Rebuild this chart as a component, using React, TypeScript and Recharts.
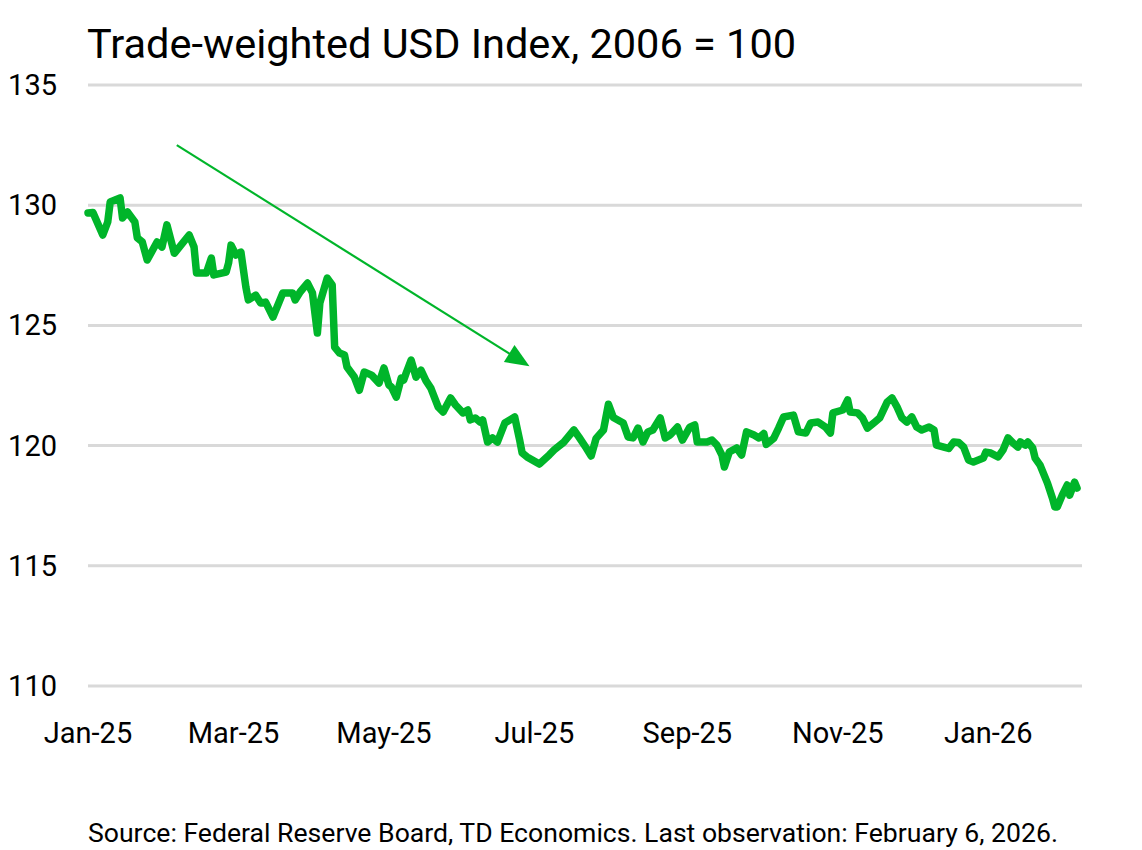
import React from "react";
import { LineChart, Line, XAxis, YAxis, CartesianGrid, ReferenceLine } from "recharts";

// days since 2025-01-01 for each observation
const dayOffsets = [
  0, 2, 6, 8, 9, 13, 14, 16, 19, 20, 22, 24, 28, 30, 32, 35, 41, 43, 44, 48,
  50, 51, 56, 57, 58, 60, 62, 64, 65, 68, 70, 72, 75, 79, 83, 84, 86, 89, 91, 93,
  94, 97, 99, 100, 102, 104, 105, 108, 110, 112, 115, 118, 120, 122, 123, 125, 127, 128, 129, 131,
  133, 135, 137, 139, 142, 144, 147, 149, 152, 154, 155, 157, 159, 160, 162, 164, 166, 169, 173, 175,
  176, 178, 183, 187, 189, 193, 197, 199, 202, 204, 206, 209, 211, 213, 217, 219, 221, 223, 225, 227,
  229, 232, 234, 236, 239, 241, 244, 246, 247, 251, 253, 255, 257, 258, 260, 263, 265, 267, 270, 272,
  274, 275, 278, 280, 282, 286, 288, 291, 293, 296, 299, 301, 302, 306, 308, 309, 312, 314, 316, 319,
  321, 324, 326, 328, 330, 332, 334, 336, 338, 341, 343, 344, 347, 349, 351, 353, 355, 357, 359, 363,
  364, 366, 369, 371, 373, 375, 377, 378, 380, 381, 383, 384, 386, 389, 391, 392, 393, 395, 397, 398,
  400, 401,
];

const usdIndex = [
  129.68, 129.7, 128.76, 129.3, 130.13, 130.3, 129.47, 129.72, 129.3, 128.64, 128.47, 127.72, 128.47, 128.26, 129.18, 128.0, 128.76, 128.26, 127.18, 127.18,
  127.8, 127.1, 127.22, 127.6, 128.34, 127.93, 128.05, 126.6, 126.06, 126.26, 125.93, 125.97, 125.35, 126.35, 126.35, 126.06, 126.39, 126.76, 126.35, 124.68,
  125.93, 126.97, 126.68, 124.1, 123.85, 123.77, 123.27, 122.85, 122.3, 123.06, 122.93, 122.6, 123.23, 122.52, 122.44, 122.02, 122.81, 122.73, 123.02, 123.56,
  122.85, 123.14, 122.7, 122.39, 121.6, 121.4, 121.98, 121.69, 121.36, 121.48, 121.07, 121.15, 120.98, 121.07, 120.15, 120.32, 120.15, 120.94, 121.19, 120.23,
  119.7, 119.53, 119.23, 119.61, 119.82, 120.15, 120.65, 120.36, 119.9, 119.57, 120.3, 120.65, 121.72, 121.17, 120.94, 120.36, 120.32, 120.73, 120.15, 120.57,
  120.65, 121.15, 120.32, 120.44, 120.77, 120.23, 120.77, 120.86, 120.15, 120.15, 120.23, 120.02, 119.61, 119.11, 119.73, 119.9, 119.61, 120.57, 120.44, 120.32,
  120.5, 120.05, 120.3, 120.73, 121.19, 121.27, 120.57, 120.52, 120.94, 120.98, 120.77, 120.52, 121.36, 121.48, 121.9, 121.4, 121.36, 121.15, 120.73, 120.98,
  121.15, 121.81, 121.98, 121.61, 121.15, 120.98, 121.19, 120.77, 120.65, 120.77, 120.65, 120.02, 119.94, 119.88, 120.15, 120.13, 119.94, 119.4, 119.32, 119.48,
  119.73, 119.69, 119.53, 119.82, 120.32, 120.11, 119.94, 120.15, 120.02, 120.15, 119.9, 119.48, 119.19, 118.44, 117.82, 117.45, 117.45, 117.94, 118.36, 117.94,
  118.48, 118.23,
];

const monthTicks = [0, 59, 120, 181, 243, 304, 365];
const monthLabels = ["Jan-25", "Mar-25", "May-25", "Jul-25", "Sep-25", "Nov-25", "Jan-26"];
const yTicks = [110, 115, 120, 125, 130, 135];

// trend arrow, in data units
const arrowFrom = { day: 36, value: 132.5 };
const arrowTo = { day: 179, value: 123.3 };

const GREEN = "#00b52a";
const FONT = "Roboto, 'Open Sans', sans-serif";

const data = dayOffsets.map((d, i) => ({ day: d, usd: usdIndex[i] }));

function ArrowShape(props: any) {
  const { x1, y1, x2, y2 } = props;
  if ([x1, y1, x2, y2].some((v) => v == null || isNaN(v))) return null;
  const dx = x2 - x1;
  const dy = y2 - y1;
  const len = Math.sqrt(dx * dx + dy * dy);
  const ux = dx / len;
  const uy = dy / len;
  const headLen = 24;
  const headW = 10;
  const bx = x2 - ux * headLen;
  const by = y2 - uy * headLen;
  return (
    <g>
      <line x1={x1} y1={y1} x2={bx + ux * 2} y2={by + uy * 2} stroke={GREEN} strokeWidth={2.2} />
      <polygon
        points={`${x2},${y2} ${bx - uy * headW},${by + ux * headW} ${bx + uy * headW},${by - ux * headW}`}
        fill={GREEN}
      />
    </g>
  );
}

function YTick(props: any) {
  const { y, payload } = props;
  return (
    <text x={57} y={y} dy={10} textAnchor="end" fill="#000" fontSize={29} fontFamily={FONT}>
      {payload.value}
    </text>
  );
}

function XTick(props: any) {
  const { x, y, payload } = props;
  const idx = monthTicks.indexOf(payload.value);
  return (
    <text x={x} y={y} dy={49} textAnchor="middle" fill="#000" fontSize={29} fontFamily={FONT}>
      {monthLabels[idx]}
    </text>
  );
}

export default function App() {
  return (
    <div
      style={{
        position: "absolute",
        left: 0,
        top: 0,
        width: 1142,
        height: 850,
        background: "#fff",
        fontFamily: FONT,
        color: "#000",
      }}
    >
      <div style={{ position: "absolute", left: 87, top: 23, fontSize: 41.5, lineHeight: 1, whiteSpace: "nowrap" }}>
        Trade-weighted USD Index, 2006 = 100
      </div>
      <LineChart
        width={1142}
        height={850}
        data={data}
        margin={{ top: 85, right: 60, left: 0, bottom: 104 }}
      >
        <CartesianGrid horizontal vertical={false} stroke="#d9d9d9" strokeWidth={3} />
        <XAxis
          type="number"
          dataKey="day"
          domain={[0, 403]}
          ticks={monthTicks}
          height={60}
          axisLine={false}
          tickLine={false}
          tick={<XTick />}
          interval={0}
        />
        <YAxis
          domain={[110, 135]}
          ticks={yTicks}
          width={88}
          axisLine={false}
          tickLine={false}
          tick={<YTick />}
          interval={0}
        />
        <Line
          type="linear"
          dataKey="usd"
          stroke={GREEN}
          strokeWidth={7.5}
          dot={false}
          strokeLinejoin="round"
          strokeLinecap="round"
          isAnimationActive={false}
        />
        <ReferenceLine
          segment={[
            { x: arrowFrom.day, y: arrowFrom.value },
            { x: arrowTo.day, y: arrowTo.value },
          ]}
          ifOverflow="visible"
          shape={<ArrowShape />}
        />
      </LineChart>
      <div style={{ position: "absolute", left: 88, top: 820, fontSize: 26.6, lineHeight: 1, whiteSpace: "nowrap" }}>
        Source: Federal Reserve Board, TD Economics. Last observation: February 6, 2026.
      </div>
    </div>
  );
}
